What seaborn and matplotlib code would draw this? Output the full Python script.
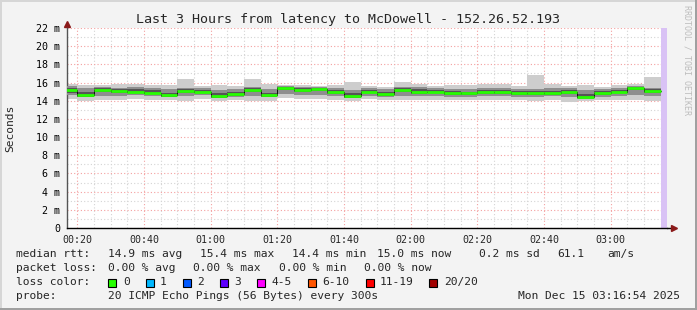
import numpy as np
import pandas as pd
import matplotlib
matplotlib.use("Agg")
import matplotlib.pyplot as plt
import matplotlib.dates as mdates
from matplotlib.patches import Rectangle
import seaborn as sns

# ---------------- data ----------------
bin_start = pd.date_range("2025-12-15 00:15", "2025-12-15 03:10", freq="5min")
median_ms = [15.2, 14.65, 15.2, 15.1, 15.0, 14.9, 14.65, 15.1, 15.0, 14.55, 14.75, 15.2,
             14.65, 15.4, 15.2, 15.3, 14.95, 14.55, 15.0, 14.75, 15.2, 15.0, 15.0, 14.9,
             14.8, 15.0, 15.0, 14.85, 14.85, 14.9, 15.0, 14.4, 14.85, 15.0, 15.4, 15.02]
ping_min = [14.2, 14.0, 14.1, 14.1, 14.2, 14.1, 14.1, 14.0, 14.2, 13.95, 14.1, 14.0,
            14.0, 14.3, 14.2, 14.2, 14.1, 14.0, 14.2, 14.1, 14.1, 14.1, 14.1, 14.1,
            14.1, 14.1, 14.1, 14.1, 14.0, 14.1, 13.9, 14.0, 14.1, 14.1, 14.1, 14.0]
ping_max = [15.85, 15.75, 15.75, 15.85, 15.85, 15.75, 15.75, 16.35, 15.6, 15.75, 15.6, 16.4,
            15.85, 15.7, 15.75, 15.6, 15.7, 16.1, 15.6, 15.5, 16.1, 15.85, 15.6, 15.75,
            15.7, 15.85, 15.85, 15.6, 16.8, 15.85, 15.6, 15.75, 15.5, 15.75, 15.85, 16.65]
ping_q3 = [15.6, 15.4, 15.5, 15.45, 15.5, 15.45, 15.3, 15.45, 15.35, 15.2, 15.3, 15.5,
           15.3, 15.6, 15.55, 15.5, 15.4, 15.2, 15.4, 15.3, 15.5, 15.5, 15.4, 15.3,
           15.3, 15.45, 15.4, 15.3, 15.3, 15.4, 15.4, 15.2, 15.25, 15.4, 15.6, 15.4]
ping_q1 = [14.6, 14.4, 14.5, 14.5, 14.6, 14.5, 14.4, 14.5, 14.6, 14.3, 14.4, 14.5,
           14.4, 14.7, 14.6, 14.6, 14.5, 14.3, 14.5, 14.4, 14.5, 14.5, 14.5, 14.4,
           14.4, 14.5, 14.5, 14.4, 14.4, 14.5, 14.4, 14.2, 14.4, 14.5, 14.6, 14.5]
core_hi = [15.4, 15.0, 15.4, 15.3, 15.25, 15.2, 14.9, 15.3, 15.2, 14.8, 15.0, 15.4,
           14.9, 15.55, 15.4, 15.45, 15.2, 14.8, 15.2, 15.0, 15.4, 15.25, 15.2, 15.1,
           15.0, 15.2, 15.2, 15.1, 15.05, 15.1, 15.2, 14.7, 15.05, 15.2, 15.55, 15.25]
core_lo = [14.9, 14.45, 14.95, 14.8, 14.8, 14.7, 14.45, 14.85, 14.8, 14.35, 14.55, 14.95,
           14.45, 15.15, 14.95, 15.05, 14.7, 14.35, 14.8, 14.5, 14.95, 14.75, 14.8, 14.65,
           14.6, 14.75, 14.75, 14.6, 14.6, 14.65, 14.75, 14.25, 14.6, 14.8, 15.15, 14.8]
y_ticks = [0, 2, 4, 6, 8, 10, 12, 14, 16, 18, 20, 22]
loss_labels = ["0", "1", "2", "3", "4-5", "6-10", "11-19", "20/20"]
loss_colors = ["#26ff00", "#00b8ff", "#0059ff", "#5e00ff", "#ff00ff", "#ff5500", "#ff0000", "#a10000"]

# ---------------- styling ----------------
sns.set_style("white")
plt.rcParams["font.family"] = ["DejaVu Sans Mono"]
MONO = "DejaVu Sans Mono"

W, H = 697, 310
fig = plt.figure(figsize=(W / 100, H / 100), dpi=100, facecolor="#f3f3f3")
ax = fig.add_axes([67 / W, (H - 228) / H, 600 / W, 200 / H])
ax.set_facecolor("white")

step = pd.Timedelta("5min")
t_end = bin_start[-1] + step
df = pd.DataFrame({"t": bin_start, "median": median_ms, "lo": ping_min, "hi": ping_max,
                   "q1": ping_q1, "q3": ping_q3, "c1": core_lo, "c3": core_hi})
df_ext = pd.concat([df, df.iloc[[-1]].assign(t=t_end)], ignore_index=True)

x0 = pd.Timestamp("2025-12-15 00:16:54")
x1 = pd.Timestamp("2025-12-15 03:16:54")

# unknown / "now" region
ax.axvspan(t_end, x1, color="#d9c2f5", lw=0, zorder=1)

# smoke
ax.fill_between(df_ext["t"], df_ext["lo"], df_ext["hi"], step="post", color="#cdcdcd", lw=0, zorder=2)
ax.fill_between(df_ext["t"], df_ext["q1"], df_ext["q3"], step="post", color="#8e8e8e", lw=0, zorder=3)
ax.fill_between(df_ext["t"], df_ext["c1"], df_ext["c3"], step="post", color="#555555", lw=0, zorder=4)

# median: black step line + green segments
sns.lineplot(data=df_ext, x="t", y="median", drawstyle="steps-post", color="#111111",
             lw=0.7, ax=ax, zorder=5)
ax.hlines(df["median"], df["t"], df["t"] + step, color="#26ff00", lw=2.0, zorder=6)

ax.set_xlim(x0, x1)
ax.set_ylim(0, 22)
ax.set_xlabel("")
ax.set_ylabel("")

# grid
ax.xaxis.set_major_locator(mdates.MinuteLocator(byminute=[0, 20, 40]))
ax.xaxis.set_minor_locator(mdates.MinuteLocator(byminute=range(0, 60, 5)))
ax.xaxis.set_major_formatter(mdates.DateFormatter("%H:%M"))
ax.set_yticks(y_ticks)
ax.set_yticklabels([f"{v} m" if v else "0" for v in y_ticks])
ax.set_yticks(range(0, 23), minor=True)
ax.grid(which="minor", color="#d4d4d4", lw=0.8, ls=(0, (1, 2)), zorder=0)
ax.grid(which="major", color="#f4a0a0", lw=0.8, ls=(0, (1, 2)), zorder=0)
ax.set_axisbelow(True)

ax.tick_params(axis="y", which="both", length=0, pad=5, labelsize=7.2, colors="#000000")
ax.tick_params(axis="x", which="major", length=2, width=0.8, pad=3, labelsize=7.2,
               color="#000000", direction="out")
ax.tick_params(axis="x", which="minor", length=0)
for lab in ax.get_xticklabels() + ax.get_yticklabels():
    lab.set_fontfamily(MONO)

for s in ["top", "right"]:
    ax.spines[s].set_visible(False)
ax.spines["left"].set_color("#555555")
ax.spines["left"].set_linewidth(1.0)
ax.spines["bottom"].set_color("#000000")
ax.spines["bottom"].set_linewidth(1.0)

# extend the x axis line a bit beyond the plot, as rrdtool does
ax.plot([1.0, 1.008], [0, 0], color="#000000", lw=1.0, transform=ax.transAxes, clip_on=False)

# arrows
ax.plot([0], [1.02], marker="^", ms=5, color="#8b1a1a", transform=ax.transAxes, clip_on=False)
ax.plot([1.012], [0], marker=">", ms=5, color="#8b1a1a", transform=ax.transAxes, clip_on=False)

# texts
def ft(x, y, s, **kw):
    kw.setdefault("fontsize", 8.1)
    kw.setdefault("family", MONO)
    kw.setdefault("va", "center")
    kw.setdefault("ha", "left")
    fig.text(x / W, 1 - y / H, s, **kw)

ft(348, 19, "Last 3 Hours from latency to McDowell - 152.26.52.193", ha="center", fontsize=9.6)
ft(10.5, 128, "Seconds", rotation=90, ha="center", fontsize=8.1)
ft(687, 60, "RRDTOOL / TOBI OETIKER", rotation=-90, ha="center", fontsize=6, color="#bdbdbd")

ft(16, 254, "median rtt:")
for x, s in [(107.5, "14.9 ms avg"), (200, "15.4 ms max"), (292, "14.4 ms min"),
             (377, "15.0 ms now"), (479, "0.2 ms sd"), (557, "61.1"), (607, "am/s")]:
    ft(x, 254, s)
ft(16, 268, "packet loss:")
for x, s in [(107.5, "0.00 % avg"), (193, "0.00 % max"), (279, "0.00 % min"), (364, "0.00 % now")]:
    ft(x, 268, s)
ft(16, 282, "loss color:")
box_x = [108, 146, 183, 219.5, 257, 308, 366, 429]
lab_x = [123.5, 160, 197, 234, 271, 322, 380, 444]
for bx, lx, c, s in zip(box_x, lab_x, loss_colors, loss_labels):
    fig.add_artist(Rectangle((bx / W, 1 - 286.5 / H), 8 / W, 8 / H, transform=fig.transFigure,
                             facecolor=c, edgecolor="black", lw=0.8))
    ft(lx, 282, s)
ft(16, 296, "probe:")
ft(107.5, 296, "20 ICMP Echo Pings (56 Bytes) every 300s")
ft(680, 296, "Mon Dec 15 03:16:54 2025", ha="right")

# frame border
fig.add_artist(Rectangle((0, 0), 2 / W, 1, transform=fig.transFigure, color="#d6d6d6", lw=0))
fig.add_artist(Rectangle((0, 1 - 2 / H), 1, 2 / H, transform=fig.transFigure, color="#d6d6d6", lw=0))
fig.add_artist(Rectangle((1 - 2 / W, 0), 2 / W, 1, transform=fig.transFigure, color="#a0a0a0", lw=0))
fig.add_artist(Rectangle((0, 0), 1, 2 / H, transform=fig.transFigure, color="#a0a0a0", lw=0))

fig.savefig("out.png", dpi=100, facecolor=fig.get_facecolor())
